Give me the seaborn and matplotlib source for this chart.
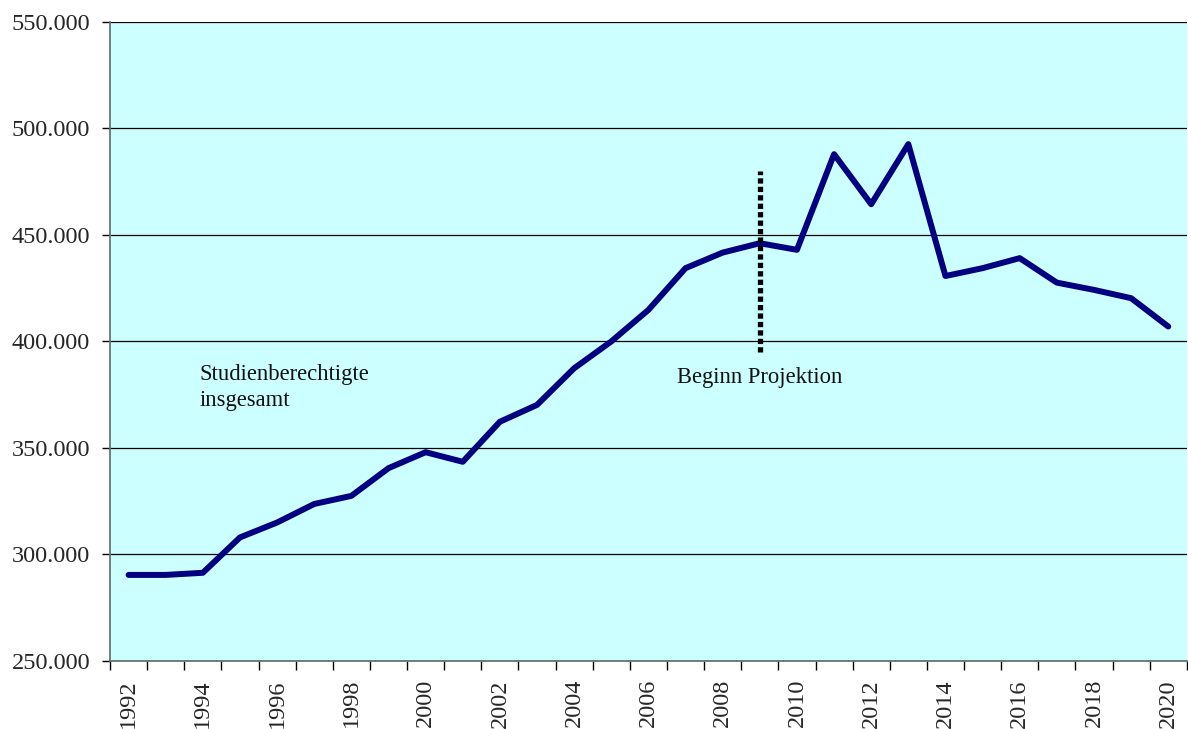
import matplotlib
matplotlib.use("Agg")
import matplotlib.pyplot as plt
import seaborn as sns
import pandas as pd
import numpy as np
from matplotlib.ticker import FuncFormatter, MultipleLocator, FixedLocator

years = list(range(1992, 2021))
studienberechtigte = [290400, 290400, 291400, 308000, 315000, 323700, 327500, 340500,
                      348000, 343500, 362300, 370200, 387400, 400000, 414800, 434400,
                      441700, 446100, 443000, 487900, 464400, 492600, 430700, 434400,
                      439100, 427600, 424200, 420300, 407000]
projektion_jahr = 2009
projektion_von, projektion_bis = 395000, 480000

df = pd.DataFrame({"Jahr": years, "Studienberechtigte": studienberechtigte})

sns.set_theme(style="white")
plt.rcParams['font.family'] = ['Liberation Serif', 'DejaVu Serif']

f, ax = plt.subplots(figsize=(11.88, 7.29), dpi=100)
plt.subplots_adjust(left=0.0926, right=0.999, bottom=0.0933, top=0.970)
ax.set_facecolor('#CCFFFF')

sns.lineplot(data=df, x="Jahr", y="Studienberechtigte", color='#000080',
             linewidth=4.3, ax=ax, zorder=3)
ax.plot([projektion_jahr, projektion_jahr], [projektion_von, projektion_bis],
        color='black', linewidth=3.8, linestyle=(0, (1, 0.6)), zorder=4)

ax.set_xlim(years[0] - 0.5, years[-1] + 0.5)
ax.set_ylim(250000, 550000)
ax.yaxis.set_major_locator(MultipleLocator(50000))
ax.yaxis.set_major_formatter(FuncFormatter(lambda v, p: f"{int(v):,}".replace(",", ".")))
ax.grid(axis='y', color='black', linewidth=0.9)
ax.set_axisbelow(True)
ax.get_ygridlines()[-1].set_visible(False)

ax.xaxis.set_major_locator(FixedLocator(years[::2]))
ax.xaxis.set_minor_locator(FixedLocator(np.arange(years[0] - 0.5, years[-1] + 1, 1)))
ax.tick_params(axis='x', which='major', bottom=True, length=0, pad=13, labelsize=17.5,
               rotation=90)
ax.tick_params(axis='x', which='minor', bottom=True, length=6.5, width=1, color='black',
               direction='out')
ax.tick_params(axis='y', length=5.8, width=1, color='black', labelsize=17.5, pad=8.6,
               left=True)
ax.set_xlabel("")
ax.set_ylabel("")

for s in ['top', 'right']:
    ax.spines[s].set_visible(False)
ax.spines['left'].set_color('#607070')
ax.spines['bottom'].set_color('#607070')

ax.text(1993.9, 389400, "Studienberechtigte\ninsgesamt", fontsize=16.3, va='top',
        linespacing=1.34, color='#111111')
ax.text(2006.77, 388000, "Beginn Projektion", fontsize=16.3, va='top', color='#111111')

plt.savefig('out.png', dpi=100)
